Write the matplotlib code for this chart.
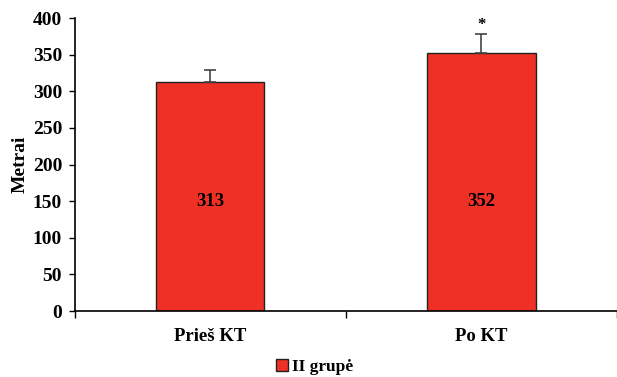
import matplotlib.pyplot as plt
import matplotlib.patches as mpatches

# duomenys
kategorijos = ['Prieš KT', 'Po KT']
reiksmes = [313, 352]
paklaidos = [16, 26]
zvaigzdutes = ['', '*']

plt.rcParams['font.family'] = ['Liberation Serif', 'DejaVu Serif']
plt.rcParams['font.weight'] = 'bold'

fig = plt.figure(figsize=(6.17, 3.77), dpi=100)
ax = fig.add_axes([0.121, 0.175, 0.879, 0.777])

x = range(len(kategorijos))
spalva = '#EE3124'
ax.bar(x, reiksmes, width=0.4, color=spalva, edgecolor='#222222', lw=1, zorder=2)
ax.errorbar(x, reiksmes, yerr=[[0] * len(reiksmes), paklaidos], fmt='none',
            ecolor='#444444', elinewidth=1.2, capsize=4, capthick=1.2, zorder=3)

# reikšmės ant stulpelių ir reikšmingumo žymė
for xi, v, e, z in zip(x, reiksmes, paklaidos, zvaigzdutes):
    ax.text(xi, 150, str(v), ha='center', va='center', fontsize=13.5, fontweight='bold')
    if z:
        ax.text(xi, v + e + 1, z, ha='center', va='bottom', fontsize=12, fontweight='bold')

ax.set_xlim(-0.5, 1.5)
ax.set_ylim(0, 400)
ax.set_yticks(range(0, 401, 50))
ax.set_xticks(list(x))
ax.set_xticklabels(kategorijos, fontsize=13.5, fontweight='bold')
ax.set_xticks([-0.5, 0.5, 1.5], minor=True)
ax.tick_params(axis='x', which='major', length=0, pad=12)
ax.tick_params(axis='x', which='minor', length=5, direction='out', width=1)
ax.tick_params(axis='y', length=4, direction='out', width=1, labelsize=14, pad=5)
for lab in ax.get_yticklabels():
    lab.set_fontweight('bold')

ax.spines['top'].set_visible(False)
ax.spines['right'].set_visible(False)
ax.spines['left'].set_linewidth(1.2)
ax.spines['bottom'].set_linewidth(1.2)

ax.set_ylabel('Metrai', fontsize=14, fontweight='bold', labelpad=3)

handle = mpatches.Patch(facecolor=spalva, edgecolor='#222222', label='II grupė')
fig.legend(handles=[handle], loc='center', bbox_to_anchor=(0.51, 0.027), frameon=False,
           prop={'size': 12.5, 'weight': 'bold'}, handlelength=0.7, handleheight=0.7,
           handletextpad=0.2)

fig.savefig('out.png', dpi=100)
